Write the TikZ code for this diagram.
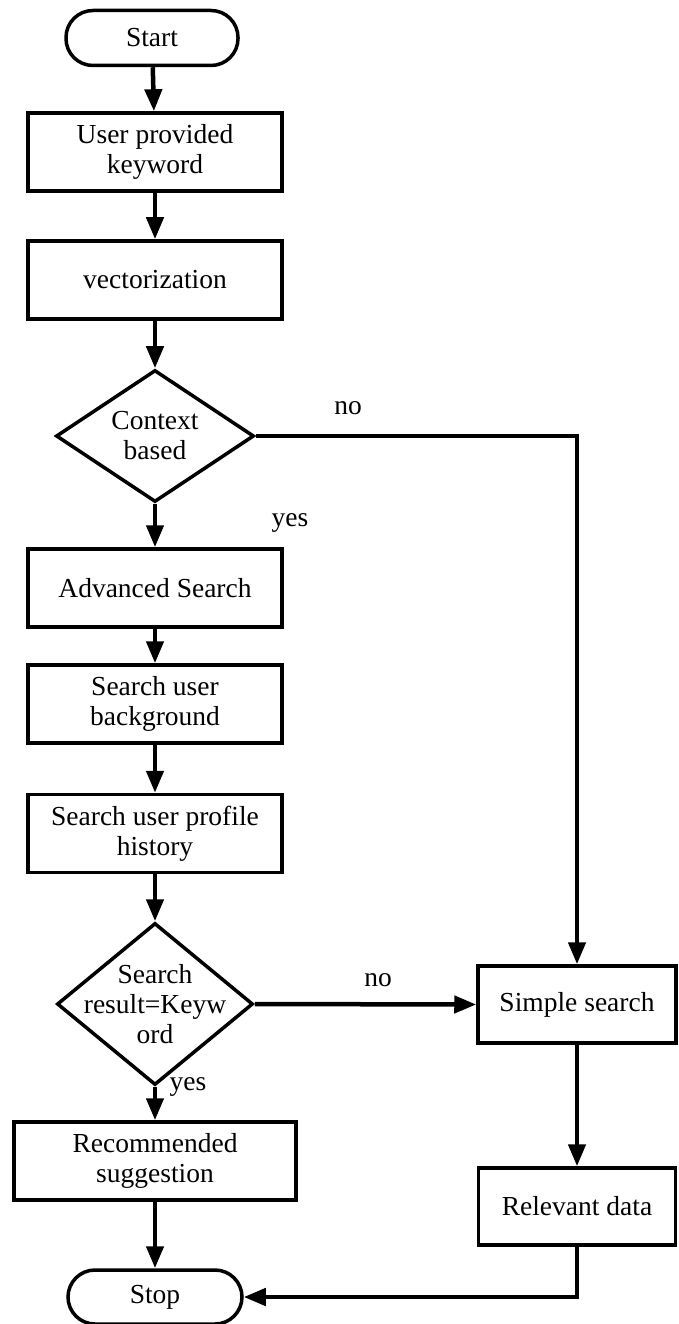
\documentclass[tikz,border=0pt]{standalone}
\usepackage{fontspec}
\setmainfont{Liberation Serif}
\usetikzlibrary{arrows.meta,shapes.geometric}
\begin{document}
\begin{tikzpicture}[x=1pt,y=-1pt,
  font=\fontsize{27.5}{30}\selectfont,
  proc/.style={draw, line width=3.5pt, rectangle, minimum width=254pt,
    minimum height=78pt, align=center, inner sep=0pt},
  term/.style={draw, line width=3.5pt, rectangle, rounded corners=27pt,
    minimum width=172pt, minimum height=55pt, inner sep=0pt},
  decision/.style={draw, line width=3.5pt, diamond, inner sep=0pt},
  flow/.style={line width=4.5pt, -{Triangle[length=22pt,width=17pt]}},
  tag/.style={inner sep=0pt}
]
\useasboundingbox (0,0) rectangle (678,1324);

% main column
\node[term] (start) at (152,38) {Start};
\node[proc] (upk) at (155,152) {User provided\\keyword};
\node[proc] (vec) at (155,280) {vectorization};
\node[decision, minimum width=198pt, minimum height=132pt,
  label={[align=center]center:Context\\based}] (d1) at (155,436) {};
\node[proc] (adv) at (155,588) {Advanced Search};
\node[proc] (bg) at (155,704) {Search user\\background};
\node[proc] (prof) at (155,833.5) {Search user profile\\history};
\node[decision, minimum width=196pt, minimum height=162pt,
  label={[align=center]center:Search\\result=Keyw\\ord}] (d2) at (155,1004) {};
\node[proc, minimum width=282pt] (rec) at (155,1161) {Recommended\\suggestion};
\node[term, minimum width=174pt, minimum height=54pt] (stop) at (155,1297) {Stop};

% right column
\node[proc, minimum width=198pt, minimum height=77pt] (simple) at (577,1004.5) {Simple search};
\node[proc, minimum width=197pt, minimum height=77pt] (rel) at (577,1206.5) {Relevant data};

% branch labels
\node[tag] (no1) at (348,408) {no};
\node[tag] (yes1) at (290,523) {yes};
\node[tag] (no2) at (378,980) {no};
\node[tag] (yes2) at (188,1087) {yes};

% connectors
\draw[flow] (start) -- (upk);
\draw[flow] (upk) -- (vec);
\draw[flow] (vec) -- (d1);
\draw[flow] (d1) -- (adv);
\draw[flow] (adv) -- (bg);
\draw[flow] (bg) -- (prof);
\draw[flow] (prof) -- (d2);
\draw[flow] (d2) -- (rec);
\draw[flow] (rec) -- (stop);
\draw[flow, line join=miter] (d1.east) -| (simple.north);
\draw[flow] (d2.east) -- (simple.west);
\draw[flow] (simple) -- (rel);
\draw[flow, line join=miter] (rel.south) |- (stop.east);
\end{tikzpicture}
\end{document}
